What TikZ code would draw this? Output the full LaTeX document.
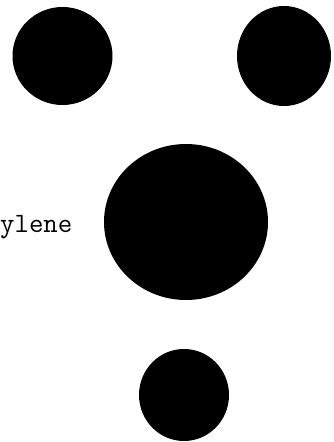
\documentclass[tikz,border=0pt]{standalone}
\begin{document}
\begin{tikzpicture}[x=1pt,y=-1pt,
  blob/.style={fill=black,draw=none},
  lbl/.style={inner sep=0pt,anchor=base west,font=\ttfamily\fontsize{28}{28}\selectfont}]
\useasboundingbox (0,0) rectangle (334,442);
\fill[white] (0,0) rectangle (334,442);
\path[blob] (62.5,56) ellipse [x radius=50,y radius=49];
\path[blob] (284,56) ellipse [x radius=47,y radius=50];
\path[blob] (186,222) ellipse [x radius=82,y radius=78];
\path[blob] (184,395) ellipse [x radius=45,y radius=46];
\node[lbl] (t) at (0,232) {ylene};
\end{tikzpicture}
\end{document}
